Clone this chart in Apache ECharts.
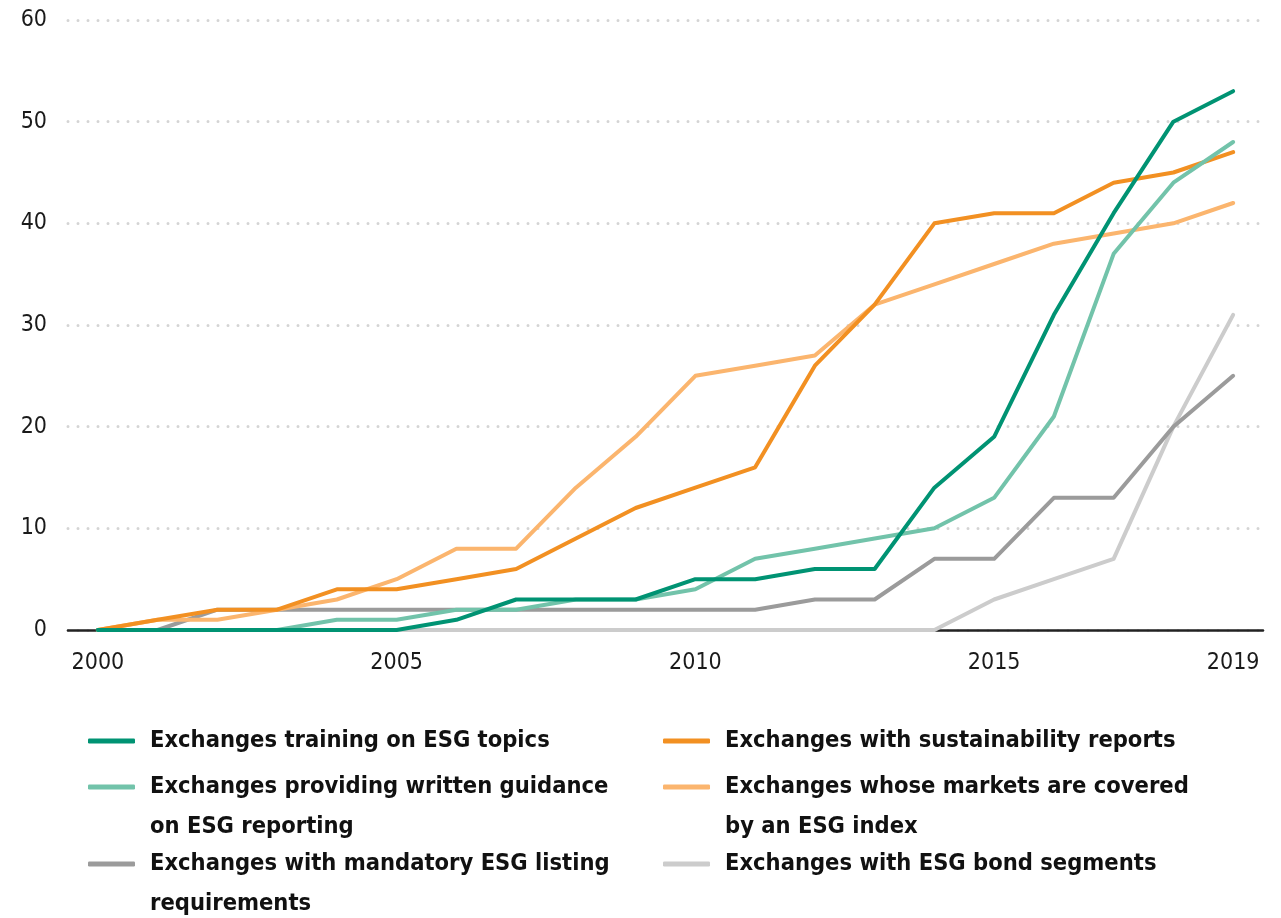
<!DOCTYPE html>
<html>
<head>
<meta charset="utf-8">
<script src="https://cdn.jsdelivr.net/npm/echarts@6/dist/echarts.min.js"></script>
<style>
html,body{margin:0;padding:0;background:#fff;}
#chart{width:1281px;height:918px;}
</style>
</head>
<body>
<div id="chart"></div>
<script>
const years = ['2000','2001','2002','2003','2004','2005','2006','2007','2008','2009','2010','2011','2012','2013','2014','2015','2016','2017','2018','2019'];
const shownYearIdx = [0, 5, 10, 15, 19];
const yTicks = [0, 10, 20, 30, 40, 50, 60];

const nameTraining = 'Exchanges training on ESG topics';
const nameGuidance = 'Exchanges providing written guidance\non ESG reporting';
const nameMandatory = 'Exchanges with mandatory ESG listing\nrequirements';
const nameSustain = 'Exchanges with sustainability reports';
const nameIndex = 'Exchanges whose markets are covered\nby an ESG index';
const nameBond = 'Exchanges with ESG bond segments';

const training       = [0,0,0,0,0,0,1,3,3,3,5,5,6,6,14,19,31,41,50,53];
const guidance       = [0,0,0,0,1,1,2,2,3,3,4,7,8,9,10,13,21,37,44,48];
const mandatory      = [0,0,2,2,2,2,2,2,2,2,2,2,3,3,7,7,13,13,20,25];
const sustainability = [0,1,2,2,4,4,5,6,9,12,14,16,26,32,40,41,41,44,45,47];
const esgIndex       = [0,1,1,2,3,5,8,8,14,19,25,26,27,32,34,36,38,39,40,42];
const bond           = [0,0,0,0,0,0,0,0,0,0,0,0,0,0,0,3,5,7,20,31];

const FONT = "'Liberation Sans Narrow','DejaVu Sans Condensed',sans-serif";

const chart = echarts.init(document.getElementById('chart'), null, {renderer: 'canvas'});

function mkSeries(name, data, color, z) {
  return {
    name: name, type: 'line', data: data, color: color, z: z,
    symbol: 'none', smooth: false,
    lineStyle: {width: 4, color: color, join: 'round', cap: 'round'},
    emphasis: {disabled: true}
  };
}

function mkLegend(name, left, top, twoLine) {
  return {
    data: [{name: name}],
    formatter: twoLine ? function (n) { return '\n' + n; } : undefined,
    left: left, top: top, padding: 0, orient: 'vertical',
    icon: 'roundRect', itemWidth: 47, itemHeight: 5,
    selectedMode: false,
    textStyle: {fontFamily: FONT, fontWeight: 'bold', fontSize: 23.5, color: '#111', lineHeight: 40, padding: [0, 0, 0, 10]}
  };
}

chart.setOption({
  animation: false,
  backgroundColor: '#fff',
  grid: {left: 68, right: 18, top: 20, bottom: 288, containLabel: false},
  xAxis: {
    type: 'category', data: years, boundaryGap: true,
    axisLine: {show: true, lineStyle: {color: '#222', width: 2.5}},
    axisTick: {show: false},
    axisLabel: {
      interval: function (idx) { return shownYearIdx.indexOf(idx) >= 0; },
      margin: 22, fontFamily: FONT, fontSize: 23, color: '#1a1a1a'
    },
    splitLine: {show: false}
  },
  yAxis: {
    type: 'value', min: yTicks[0], max: yTicks[yTicks.length - 1], interval: 10,
    axisLine: {show: false}, axisTick: {show: false},
    axisLabel: {margin: 21, fontFamily: FONT, fontSize: 23, color: '#1a1a1a'},
    splitLine: {show: true, lineStyle: {color: '#d4d4d4', width: 3, type: [0, 10], cap: 'round'}}
  },
  legend: [
    mkLegend(nameTraining, 88, 721, false),
    mkLegend(nameGuidance, 88, 727, true),
    mkLegend(nameMandatory, 88, 804, true),
    mkLegend(nameSustain, 663, 721, false),
    mkLegend(nameIndex, 663, 727, true),
    mkLegend(nameBond, 663, 844, false)
  ],
  series: [
    mkSeries(nameBond, bond, '#cccccc', 1),
    mkSeries(nameMandatory, mandatory, '#9b9b9b', 2),
    mkSeries(nameIndex, esgIndex, '#fbb56e', 3),
    mkSeries(nameSustain, sustainability, '#f29022', 4),
    mkSeries(nameGuidance, guidance, '#72c3aa', 5),
    mkSeries(nameTraining, training, '#009373', 6)
  ]
});
</script>
</body>
</html>
